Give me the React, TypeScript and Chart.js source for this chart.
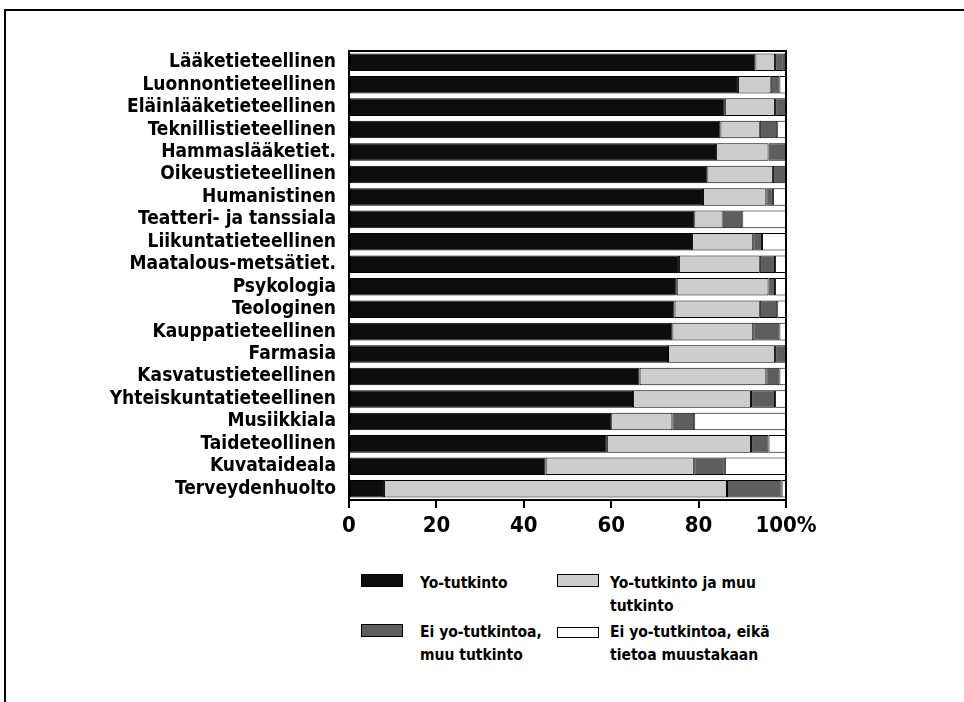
import React, { useEffect, useRef } from "react";
import { Chart, registerables } from "chart.js";

Chart.register(...registerables);

const categories = [
  "Lääketieteellinen",
  "Luonnontieteellinen",
  "Eläinlääketieteellinen",
  "Teknillistieteellinen",
  "Hammaslääketiet.",
  "Oikeustieteellinen",
  "Humanistinen",
  "Teatteri- ja tanssiala",
  "Liikuntatieteellinen",
  "Maatalous-metsätiet.",
  "Psykologia",
  "Teologinen",
  "Kauppatieteellinen",
  "Farmasia",
  "Kasvatustieteellinen",
  "Yhteiskuntatieteellinen",
  "Musiikkiala",
  "Taideteollinen",
  "Kuvataideala",
  "Terveydenhuolto",
];

const yoTutkinto = [93, 89, 86, 85, 84, 82, 81, 79, 78.5, 75.5, 75, 74.5, 74, 73, 66.5, 65, 60, 59, 45, 8];
const yoJaMuu = [4.5, 7.5, 11.5, 9, 12, 15, 14.5, 6.5, 14, 18.5, 21, 19.5, 18.5, 24.5, 29, 27, 14, 33, 34, 78.5];
const eiYoMuu = [2, 2, 2.5, 4, 4, 3, 1.5, 4.5, 2, 3.5, 1.5, 4, 6, 2.5, 3, 5.5, 5, 4, 7, 12.5];
const eiTietoa = [0.5, 1.5, 0, 2, 0, 0, 3, 10, 5.5, 2.5, 2.5, 2, 1.5, 0, 1.5, 2.5, 21, 4, 14, 1];

const xTicks = [0, 20, 40, 60, 80, 100];

const seriesNames = [
  ["Yo-tutkinto"],
  ["Yo-tutkinto ja muu", "tutkinto"],
  ["Ei yo-tutkintoa,", "muu tutkinto"],
  ["Ei yo-tutkintoa, eikä", "tietoa muustakaan"],
];

const FONT = '"Liberation Sans Narrow", "DejaVu Sans Condensed", "Arial Narrow", sans-serif';
const COLORS = ["#0d0d0d", "#cdcdcd", "#5e5e5e", "#ffffff"];

const framePlugin = {
  id: "plotFrame",
  afterDatasetsDraw(chart: any) {
    const { ctx, chartArea } = chart;
    ctx.save();
    ctx.strokeStyle = "#000";
    ctx.lineWidth = 2;
    ctx.strokeRect(chartArea.left, chartArea.top, chartArea.right - chartArea.left, chartArea.bottom - chartArea.top);
    ctx.restore();
  },
};

export default function App() {
  const ref = useRef<HTMLCanvasElement>(null);

  useEffect(() => {
    if (!ref.current) return;
    const data = [yoTutkinto, yoJaMuu, eiYoMuu, eiTietoa];
    const chart = new Chart(ref.current, {
      type: "bar",
      data: {
        labels: categories,
        datasets: data.map((d, i) => ({
          label: seriesNames[i].join(" "),
          data: d,
          backgroundColor: COLORS[i],
          borderColor: "#000",
          borderWidth: 1,
          borderSkipped: false,
          barPercentage: 0.78,
          categoryPercentage: 1,
        })),
      },
      options: {
        indexAxis: "y",
        responsive: false,
        animation: false,
        layout: { padding: { left: 0, right: 178, top: 51, bottom: 0 } },
        plugins: { legend: { display: false }, tooltip: { enabled: false } },
        scales: {
          x: {
            stacked: true,
            min: 0,
            max: 100,
            afterBuildTicks: (s: any) => {
              s.ticks = xTicks.map((v) => ({ value: v }));
            },
            afterFit: (s: any) => {
              s.height = 45;
            },
            ticks: {
              callback: (v: any) => (v === 100 ? "100%" : String(v)),
              color: "#000",
              font: { family: FONT, size: 22, weight: "bold" },
              padding: 5,
              maxRotation: 0,
            },
            grid: { drawOnChartArea: false, tickLength: 8, color: "#000", lineWidth: 2 },
            border: { color: "#000", width: 2 },
          },
          y: {
            stacked: true,
            afterFit: (s: any) => {
              s.width = 349;
            },
            ticks: {
              color: "#000",
              font: { family: FONT, size: 19, weight: "bold" },
              padding: 5,
              autoSkip: false,
            },
            grid: { display: false },
            border: { color: "#000", width: 2 },
          },
        },
      },
      plugins: [framePlugin],
    });
    return () => chart.destroy();
  }, []);

  const legendPos = [
    { sx: 361, sy: 574, tx: 420, ty: 572 },
    { sx: 557, sy: 574, tx: 610, ty: 572 },
    { sx: 361, sy: 624, tx: 420, ty: 621 },
    { sx: 557, sy: 627, tx: 610, ty: 621 },
  ];

  return (
    <div style={{ position: "absolute", left: 0, top: 0, width: 964, height: 702, background: "#fff", overflow: "hidden" }}>
      <div style={{ position: "absolute", left: 4, top: 9, width: 970, height: 700, borderTop: "2px solid #000", borderLeft: "2px solid #000" }} />
      <canvas ref={ref} width={964} height={545} style={{ position: "absolute", left: 0, top: 0 }} />
      {legendPos.map((p, i) => (
        <React.Fragment key={i}>
          <div
            style={{
              position: "absolute",
              left: p.sx,
              top: p.sy,
              width: 42,
              height: i === 3 ? 11 : 13,
              background: COLORS[i],
              border: "1px solid #000",
              boxSizing: "border-box",
            }}
          />
          <div
            style={{
              position: "absolute",
              left: p.tx,
              top: p.ty,
              fontFamily: FONT,
              fontWeight: "bold",
              fontSize: 15.5,
              lineHeight: "23px",
              color: "#000",
              whiteSpace: "nowrap",
            }}
          >
            {seriesNames[i].map((l, j) => (
              <div key={j}>{l}</div>
            ))}
          </div>
        </React.Fragment>
      ))}
    </div>
  );
}
